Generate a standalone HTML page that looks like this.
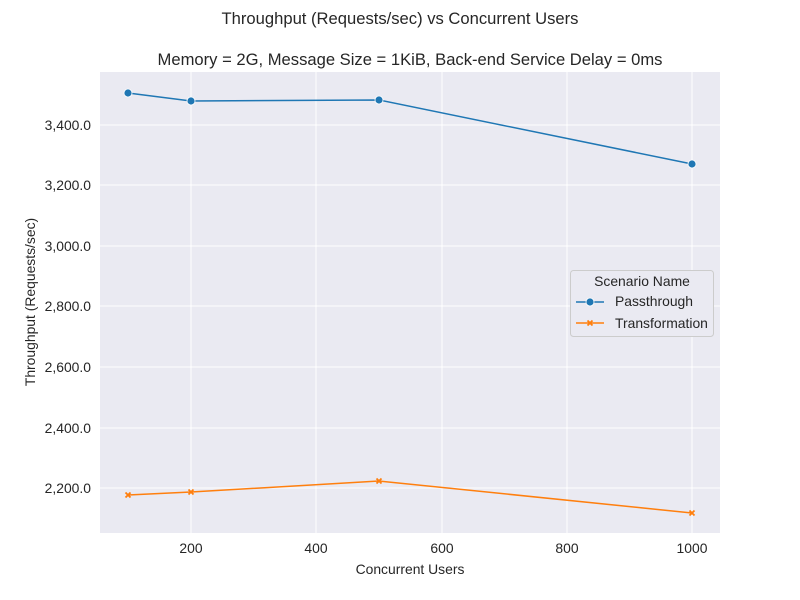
<!DOCTYPE html>
<html><head><meta charset="utf-8"><style>body{margin:0;background:#fff}svg{display:block}text{font-family:"Liberation Sans","DejaVu Sans",sans-serif;fill:#262626}</style></head><body>
<svg width="800" height="600" viewBox="0 0 800 600">
<rect x="0" y="0" width="800" height="600" fill="#fff"/>
<rect x="100" y="72" width="620" height="461" fill="#eaeaf2"/>
<g stroke="#fff" stroke-width="1">
<line x1="191" y1="72" x2="191" y2="533"/><line x1="316" y1="72" x2="316" y2="533"/><line x1="442" y1="72" x2="442" y2="533"/><line x1="567" y1="72" x2="567" y2="533"/><line x1="692" y1="72" x2="692" y2="533"/>
<line x1="100" y1="125" x2="720" y2="125"/><line x1="100" y1="185" x2="720" y2="185"/><line x1="100" y1="246" x2="720" y2="246"/><line x1="100" y1="306" x2="720" y2="306"/><line x1="100" y1="367" x2="720" y2="367"/><line x1="100" y1="428" x2="720" y2="428"/><line x1="100" y1="488" x2="720" y2="488"/>
</g>
<g font-size="13.9" text-anchor="middle">
<text x="191" y="553">200</text><text x="316" y="553">400</text><text x="442" y="553">600</text><text x="567" y="553">800</text><text x="692" y="553">1000</text>
</g>
<g font-size="13.9" text-anchor="end">
<text x="91" y="130">3,400.0</text><text x="91" y="190">3,200.0</text><text x="91" y="251">3,000.0</text><text x="91" y="311">2,800.0</text><text x="91" y="372">2,600.0</text><text x="91" y="433">2,400.0</text><text x="91" y="493">2,200.0</text>
</g>
<text x="410" y="574" font-size="13.9" text-anchor="middle">Concurrent Users</text>
<text transform="translate(35,302) rotate(-90)" font-size="13.9" text-anchor="middle">Throughput (Requests/sec)</text>
<text x="400" y="24" font-size="16.6" text-anchor="middle">Throughput (Requests/sec) vs Concurrent Users</text>
<text x="410" y="65" font-size="16.6" text-anchor="middle">Memory = 2G, Message Size = 1KiB, Back-end Service Delay = 0ms</text>
<polyline points="128,93 191,101 379,100 692,164" fill="none" stroke="#1f77b4" stroke-width="1.5"/>
<g fill="#1f77b4" stroke="#fff" stroke-width="0.8"><circle cx="128" cy="93" r="4"/><circle cx="191" cy="101" r="4"/><circle cx="379" cy="100" r="4"/><circle cx="692" cy="164" r="4"/></g>
<polyline points="128,495 191,492 379,481 692,513" fill="none" stroke="#ff7f0e" stroke-width="1.5"/>
<g stroke="#ff7f0e" stroke-width="1.8">
<path d="M125.5,492.5l5,5M130.5,492.5l-5,5"/><path d="M188.5,489.5l5,5M193.5,489.5l-5,5"/><path d="M376.5,478.5l5,5M381.5,478.5l-5,5"/><path d="M689.5,510.5l5,5M694.5,510.5l-5,5"/>
</g>
<rect x="570.5" y="270.5" width="143" height="66" rx="3" fill="#eaeaf2" stroke="#ccc"/>
<text x="642" y="286" font-size="13.9" text-anchor="middle">Scenario Name</text>
<line x1="576" y1="302" x2="604" y2="302" stroke="#1f77b4" stroke-width="1.5"/><circle cx="590" cy="302" r="4" fill="#1f77b4" stroke="#fff" stroke-width="0.8"/>
<text x="615" y="306" font-size="13.9">Passthrough</text>
<line x1="576" y1="323" x2="604" y2="323" stroke="#ff7f0e" stroke-width="1.5"/><path d="M587.5,320.5l5,5M592.5,320.5l-5,5" stroke="#ff7f0e" stroke-width="1.8"/>
<text x="615" y="328" font-size="13.9">Transformation</text>
</svg>
</body></html>
